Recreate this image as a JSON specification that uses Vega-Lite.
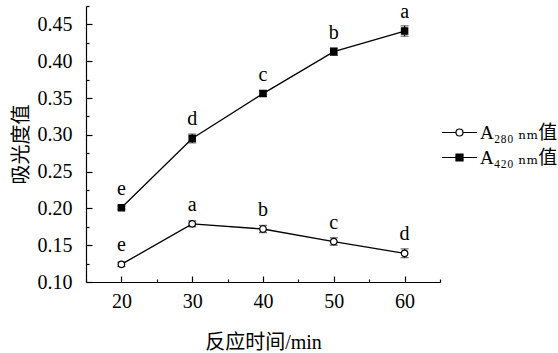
{
  "$schema": "https://vega.github.io/schema/vega-lite/v6.json",
  "width": 354,
  "height": 276,
  "autosize": {"type": "none"},
  "padding": {"left": 86, "top": 6, "right": 118, "bottom": 71},
  "background": "white",
  "config": {
    "font": "Liberation Serif, Noto Sans CJK SC",
    "view": {"stroke": null},
    "axis": {
      "domainColor": "black",
      "domainWidth": 1.2,
      "tickColor": "black",
      "tickWidth": 1.2,
      "labelColor": "black",
      "titleColor": "black",
      "labelFont": "Liberation Serif",
      "labelFontSize": 20,
      "titleFont": "Liberation Serif, Noto Sans CJK SC",
      "titleFontSize": 20,
      "titleFontWeight": "normal",
      "grid": false,
      "labelFlush": false,
      "labelOverlap": false
    },
    "legend": {
      "symbolStrokeColor": "black",
      "symbolStrokeWidth": 1.2
    }
  },
  "data": {
    "values": [
      {"series": "A280", "t": 20, "v": 0.124, "err": 0.003, "letter": "e"},
      {"series": "A280", "t": 30, "v": 0.179, "err": 0.004, "letter": "a"},
      {"series": "A280", "t": 40, "v": 0.172, "err": 0.005, "letter": "b"},
      {"series": "A280", "t": 50, "v": 0.155, "err": 0.005, "letter": "c"},
      {"series": "A280", "t": 60, "v": 0.139, "err": 0.006, "letter": "d"},
      {"series": "A420", "t": 20, "v": 0.201, "err": 0.002, "letter": "e"},
      {"series": "A420", "t": 30, "v": 0.295, "err": 0.006, "letter": "d"},
      {"series": "A420", "t": 40, "v": 0.356, "err": 0.004, "letter": "c"},
      {"series": "A420", "t": 50, "v": 0.413, "err": 0.005, "letter": "b"},
      {"series": "A420", "t": 60, "v": 0.441, "err": 0.007, "letter": "a"}
    ]
  },
  "encoding": {
    "x": {
      "field": "t",
      "type": "quantitative",
      "scale": {"domain": [15, 65], "nice": false, "zero": false},
      "axis": {
        "title": "反应时间/min",
        "values": [15, 20, 25, 30, 35, 40, 45, 50, 55, 60, 65],
        "labelExpr": "datum.value % 10 == 0 && datum.value >= 20 && datum.value <= 60 ? format(datum.value, 'd') : ''",
        "tickSize": {"condition": {"test": "datum.value % 10 == 0", "value": -6}, "value": -3},
        "labelOverlap": false,
        "labelPadding": 15,
        "titlePadding": 18
      }
    },
    "y": {
      "field": "v",
      "type": "quantitative",
      "scale": {"domain": [0.1, 0.475], "nice": false, "zero": false},
      "axis": {
        "title": "吸光度值",
        "values": [0.1, 0.125, 0.15, 0.175, 0.2, 0.225, 0.25, 0.275, 0.3, 0.325, 0.35, 0.375, 0.4, 0.425, 0.45, 0.475],
        "labelExpr": "round(datum.value * 1000) % 50 == 0 && datum.value < 0.46 ? format(datum.value, '.2f') : ''",
        "tickSize": {"condition": {"test": "round(datum.value * 1000) % 50 == 0", "value": -6}, "value": -3},
        "labelOverlap": false,
        "labelPadding": 20,
        "titlePadding": 6
      }
    }
  },
  "layer": [
    {
      "mark": {"type": "line", "color": "black", "strokeWidth": 1.3},
      "encoding": {
        "detail": {"field": "series"}
      }
    },
    {
      "mark": {"type": "errorbar", "ticks": {"size": 8, "color": "black", "strokeWidth": 1.2}, "rule": {"color": "black", "strokeWidth": 1.2}},
      "encoding": {
        "yError": {"field": "err"},
        "detail": {"field": "series"}
      }
    },
    {
      "transform": [{"filter": "datum.series == 'A280'"}],
      "mark": {"type": "circle", "stroke": "black", "strokeWidth": 1.2, "size": 42, "opacity": 1, "fill": "white"}
    },
    {
      "transform": [{"filter": "datum.series == 'A420'"}],
      "mark": {"type": "square", "stroke": "black", "strokeWidth": 1.2, "size": 40, "opacity": 1, "fill": "black"}
    },
    {
      "mark": {"type": "text", "font": "Liberation Serif", "fontSize": 20, "color": "black", "baseline": "alphabetic", "dy": -13},
      "encoding": {
        "text": {"field": "letter"}
      }
    },
    {
      "transform": [{"filter": "datum.t > 1000"}],
      "mark": {"type": "point", "strokeWidth": 1.2, "opacity": 1, "filled": true},
      "encoding": {
        "shape": {
          "field": "series",
          "type": "nominal",
          "scale": {
            "domain": ["A280", "A420"],
            "range": [
              "M-1.3,0H-0.26M0.26,0H1.3M0.26,0A0.26,0.26,0,1,1,-0.26,0A0.26,0.26,0,1,1,0.26,0Z",
              "M-1.3,0H1.3M-0.26,-0.26H0.26V0.26H-0.26Z"
            ]
          },
          "legend": {
            "title": null,
            "orient": "none",
            "legendX": 359,
            "legendY": 112,
            "padding": 0,
            "symbolSize": 729,
            "rowPadding": 0,
            "labelOffset": 6,
            "labelFont": "Liberation Serif, DejaVu Serif, Noto Sans CJK SC",
            "labelFontSize": 19,
            "labelColor": "black",
            "labelExpr": "datum.value == 'A280' ? 'A₂₈₀ ₙₘ值' : 'A₄₂₀ ₙₘ值'"
          }
        },
        "fill": {
          "field": "series",
          "type": "nominal",
          "scale": {"domain": ["A280", "A420"], "range": ["white", "black"]},
          "legend": {
            "title": null,
            "orient": "none",
            "legendX": 359,
            "legendY": 112,
            "padding": 0,
            "symbolSize": 729,
            "rowPadding": 0,
            "labelOffset": 6,
            "labelFont": "Liberation Serif, DejaVu Serif, Noto Sans CJK SC",
            "labelFontSize": 19,
            "labelColor": "black",
            "labelExpr": "datum.value == 'A280' ? 'A₂₈₀ ₙₘ值' : 'A₄₂₀ ₙₘ值'"
          }
        },
        "stroke": {
          "field": "series",
          "type": "nominal",
          "scale": {"domain": ["A280", "A420"], "range": ["black", "black"]},
          "legend": {
            "title": null,
            "orient": "none",
            "legendX": 359,
            "legendY": 112,
            "padding": 0,
            "symbolSize": 729,
            "rowPadding": 0,
            "labelOffset": 6,
            "labelFont": "Liberation Serif, DejaVu Serif, Noto Sans CJK SC",
            "labelFontSize": 19,
            "labelColor": "black",
            "labelExpr": "datum.value == 'A280' ? 'A₂₈₀ ₙₘ值' : 'A₄₂₀ ₙₘ值'"
          }
        }
      }
    }
  ]
}
